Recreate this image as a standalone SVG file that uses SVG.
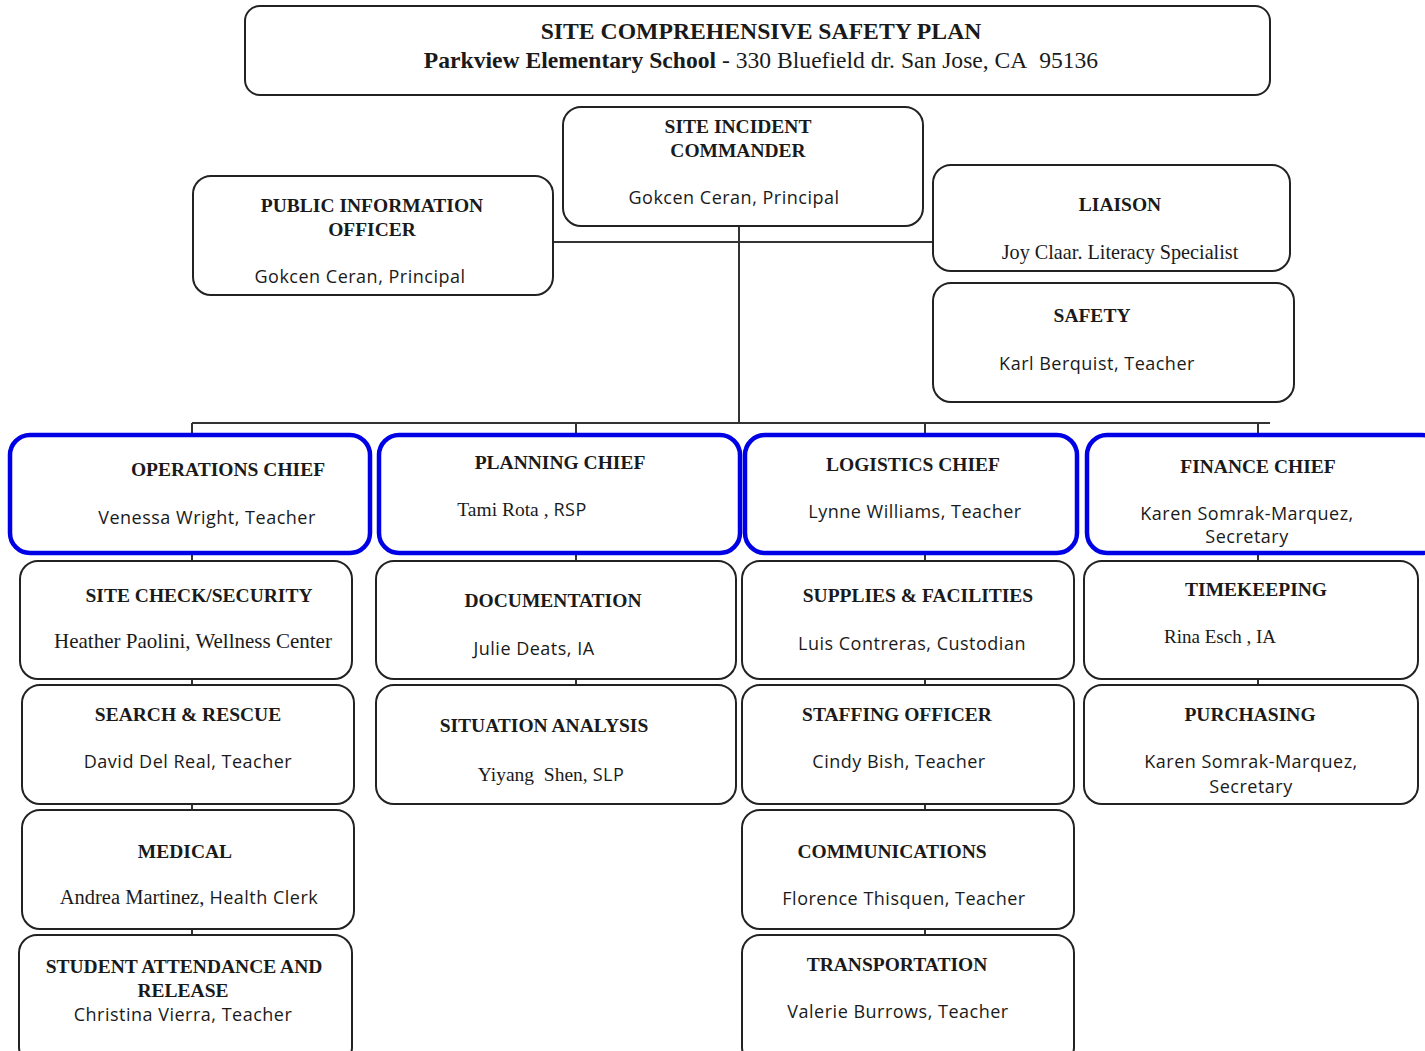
<svg xmlns="http://www.w3.org/2000/svg" width="1425" height="1051" viewBox="0 0 1425 1051">
<style>
.box{fill:#fff;stroke:#222;stroke-width:2}
.chief{fill:#fff;stroke:#0000e6;stroke-width:4.5}
.conn{stroke:#333;stroke-width:2;fill:none}
.t{font-family:"Liberation Serif","Times New Roman",serif;font-weight:bold;font-size:19.5px;fill:#1a1a1a;text-anchor:middle}
.s{font-family:"Open Sans","Noto Sans",sans-serif;font-size:18px;letter-spacing:0.5px;fill:#1a1a1a;text-anchor:middle}
.r{font-family:"Liberation Serif","Times New Roman",serif;font-size:20px;fill:#1a1a1a;text-anchor:middle}
.rs{font-family:"Liberation Serif","Times New Roman",serif;font-size:19.5px}
.ss{font-family:"Open Sans","Noto Sans",sans-serif;font-size:18px;letter-spacing:0.5px}
</style>
<rect width="1425" height="1051" fill="#fff"/>
<g id="connectors">
<line class="conn" x1="553" y1="242" x2="940" y2="242"/>
<line class="conn" x1="739" y1="226" x2="739" y2="423"/>
<line class="conn" x1="192" y1="423" x2="1270" y2="423"/>
<line class="conn" x1="192" y1="423" x2="192" y2="435"/>
<line class="conn" x1="576" y1="423" x2="576" y2="435"/>
<line class="conn" x1="925" y1="423" x2="925" y2="435"/>
<line class="conn" x1="1258" y1="423" x2="1258" y2="435"/>
<line class="conn" x1="192" y1="553" x2="192" y2="935"/>
<line class="conn" x1="576" y1="553" x2="576" y2="685"/>
<line class="conn" x1="925" y1="553" x2="925" y2="935"/>
<line class="conn" x1="1258" y1="553" x2="1258" y2="685"/>
</g>
<g id="header">
<rect class="box" x="245" y="6" width="1025" height="89" rx="15"/>
<text class="t" x="761" y="39" style="font-size:23.7px">SITE COMPREHENSIVE SAFETY PLAN</text>
<text x="761" y="68" text-anchor="middle" font-family="Liberation Serif, Times New Roman, serif" font-size="23.6" fill="#1a1a1a"><tspan font-weight="bold">Parkview Elementary School</tspan> - 330 Bluefield dr. San Jose, CA&#160; 95136</text>
</g>
<g id="commander">
<rect class="box" x="563" y="107" width="360" height="119" rx="18"/>
<text class="t" x="738" y="133">SITE INCIDENT</text>
<text class="t" x="738" y="157">COMMANDER</text>
<text class="s" x="734" y="204">Gokcen Ceran, Principal</text>
</g>
<g id="pio">
<rect class="box" x="193" y="176" width="360" height="119" rx="18"/>
<text class="t" x="372" y="212">PUBLIC INFORMATION</text>
<text class="t" x="372" y="236">OFFICER</text>
<text class="s" x="360" y="283">Gokcen Ceran, Principal</text>
</g>
<g id="liaison">
<rect class="box" x="933" y="165" width="357" height="106" rx="18"/>
<text class="t" x="1120" y="211">LIAISON</text>
<text class="r" x="1120" y="259" style="font-size:20.2px">Joy Claar. Literacy Specialist</text>
</g>
<g id="safety">
<rect class="box" x="933" y="283" width="361" height="119" rx="18"/>
<text class="t" x="1092" y="322">SAFETY</text>
<text class="s" x="1097" y="370">Karl Berquist, Teacher</text>
</g>
<g id="operations-chief">
<rect class="chief" x="10" y="435" width="360" height="118" rx="20"/>
<text class="t" x="228" y="476">OPERATIONS CHIEF</text>
<text class="s" x="207" y="524">Venessa Wright, Teacher</text>
</g>
<g id="planning-chief">
<rect class="chief" x="379" y="435" width="361" height="118" rx="20"/>
<text class="t" x="560" y="469">PLANNING CHIEF</text>
<text x="522" y="516" text-anchor="middle" fill="#1a1a1a"><tspan class="rs">Tami Rota , </tspan><tspan class="ss">RSP</tspan></text>
</g>
<g id="logistics-chief">
<rect class="chief" x="745" y="435" width="332" height="118" rx="20"/>
<text class="t" x="913" y="471">LOGISTICS CHIEF</text>
<text class="s" x="915" y="518">Lynne Williams, Teacher</text>
</g>
<g id="finance-chief">
<rect class="chief" x="1087" y="435" width="355" height="118" rx="20"/>
<text class="t" x="1258" y="473">FINANCE CHIEF</text>
<text class="s" x="1247" y="520">Karen Somrak-Marquez,</text>
<text class="s" x="1247" y="543">Secretary</text>
</g>
<g id="site-check">
<rect class="box" x="20" y="561" width="332" height="118" rx="18"/>
<text class="t" x="199" y="602">SITE CHECK/SECURITY</text>
<text class="r" x="193" y="648" style="font-size:21px">Heather Paolini, Wellness Center</text>
</g>
<g id="search-rescue">
<rect class="box" x="22" y="685" width="332" height="119" rx="18"/>
<text class="t" x="188" y="721">SEARCH &amp; RESCUE</text>
<text class="s" x="188" y="768">David Del Real, Teacher</text>
</g>
<g id="medical">
<rect class="box" x="22" y="810" width="332" height="119" rx="18"/>
<text class="t" x="185" y="858">MEDICAL</text>
<text x="189" y="904" text-anchor="middle" fill="#1a1a1a"><tspan class="rs" style="font-size:20.5px">Andrea Martinez, </tspan><tspan class="ss">Health Clerk</tspan></text>
</g>
<g id="student-attendance">
<rect class="box" x="19" y="935" width="333" height="130" rx="18"/>
<text class="t" x="184" y="973">STUDENT ATTENDANCE AND</text>
<text class="t" x="183" y="997">RELEASE</text>
<text class="s" x="183" y="1021">Christina Vierra, Teacher</text>
</g>
<g id="documentation">
<rect class="box" x="376" y="561" width="360" height="118" rx="18"/>
<text class="t" x="553" y="607">DOCUMENTATION</text>
<text class="s" x="534" y="655">Julie Deats, IA</text>
</g>
<g id="situation-analysis">
<rect class="box" x="376" y="685" width="360" height="119" rx="18"/>
<text class="t" x="544" y="732">SITUATION ANALYSIS</text>
<text x="551" y="781" text-anchor="middle" fill="#1a1a1a"><tspan class="rs">Yiyang&#160; Shen, </tspan><tspan class="ss">SLP</tspan></text>
</g>
<g id="supplies-facilities">
<rect class="box" x="742" y="561" width="332" height="118" rx="18"/>
<text class="t" x="918" y="602">SUPPLIES &amp; FACILITIES</text>
<text class="s" x="912" y="650">Luis Contreras, Custodian</text>
</g>
<g id="staffing-officer">
<rect class="box" x="742" y="685" width="332" height="119" rx="18"/>
<text class="t" x="897" y="721">STAFFING OFFICER</text>
<text class="s" x="899" y="768">Cindy Bish, Teacher</text>
</g>
<g id="communications">
<rect class="box" x="742" y="810" width="332" height="119" rx="18"/>
<text class="t" x="892" y="858">COMMUNICATIONS</text>
<text class="s" x="904" y="905">Florence Thisquen, Teacher</text>
</g>
<g id="transportation">
<rect class="box" x="742" y="935" width="332" height="130" rx="18"/>
<text class="t" x="897" y="971">TRANSPORTATION</text>
<text class="s" x="898" y="1018">Valerie Burrows, Teacher</text>
</g>
<g id="timekeeping">
<rect class="box" x="1084" y="561" width="334" height="118" rx="18"/>
<text class="t" x="1256" y="596">TIMEKEEPING</text>
<text class="r" x="1220" y="643" style="font-size:19px">Rina Esch , IA</text>
</g>
<g id="purchasing">
<rect class="box" x="1084" y="685" width="334" height="119" rx="18"/>
<text class="t" x="1250" y="721">PURCHASING</text>
<text class="s" x="1251" y="768">Karen Somrak-Marquez,</text>
<text class="s" x="1251" y="793">Secretary</text>
</g>
</svg>
